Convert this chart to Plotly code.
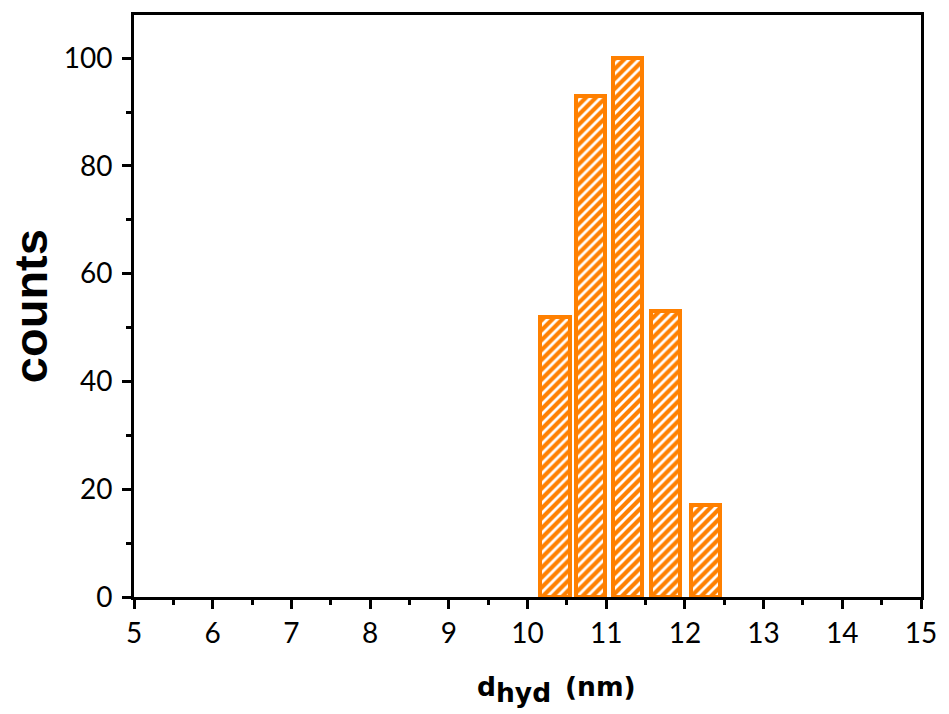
import plotly.graph_objects as go

# Data
bin_centers = [10.35, 10.80, 11.27, 11.75, 12.26]
counts = [52, 93, 100, 53, 17]
bar_width = 0.37
x_ticks = [5, 6, 7, 8, 9, 10, 11, 12, 13, 14, 15]
y_ticks = [0, 20, 40, 60, 80, 100]

orange = "#FF8000"

fig = go.Figure()
fig.add_trace(go.Bar(
    x=bin_centers, y=counts, width=bar_width,
    marker=dict(
        color="white",
        line=dict(color=orange, width=4),
        pattern=dict(shape="/", fgcolor=orange, bgcolor="white", size=7, solidity=0.6,
                     fgopacity=1, fillmode="replace"),
    ),
    showlegend=False,
))

tickfont = dict(family="Lato, Open Sans, sans-serif", size=28, color="black")

W, H = 949, 714
l, r, t, b = 134, 23, 12, 117
pw, ph = W - l - r, H - t - b

def px2paper(px, py):
    return (px - l) / pw, (H - b - py) / ph

cx, cy = px2paper(30, 305)
d_x, d_y = px2paper(477, 687)
h_x, h_y = px2paper(496, 693)
n_x, n_y = px2paper(566, 687)

title_font = dict(family="DejaVu Sans, sans-serif", size=26.5, color="black")

fig.update_layout(
    width=W, height=H,
    margin=dict(l=l, r=r, t=t, b=b),
    plot_bgcolor="white", paper_bgcolor="white",
    bargap=0,
    xaxis=dict(
        range=[5, 15], tickvals=x_ticks, ticktext=[str(v) for v in x_ticks],
        ticks="outside", ticklen=9, tickwidth=3, tickcolor="black",
        showline=True, linewidth=3, linecolor="black", mirror=True,
        showgrid=False, zeroline=False, tickfont=tickfont,
        minor=dict(dtick=0.5, tick0=5, ticks="outside", ticklen=5, tickwidth=3, tickcolor="black"),
    ),
    yaxis=dict(
        range=[0, 108], tickvals=y_ticks, ticktext=[str(v) for v in y_ticks],
        ticks="outside", ticklen=9, tickwidth=3, tickcolor="black",
        showline=True, linewidth=3, linecolor="black", mirror=True,
        showgrid=False, zeroline=False, tickfont=tickfont,
        ticklabelstandoff=4,
        minor=dict(dtick=10, tick0=0, ticks="outside", ticklen=5, tickwidth=3, tickcolor="black"),
    ),
    annotations=[
        dict(text="<b>counts</b>", x=cx, y=cy, xref="paper", yref="paper",
             textangle=-90, showarrow=False,
             font=dict(family="Liberation Sans, Arial", size=47, color="black"),
             xanchor="center", yanchor="middle"),
        dict(text="<b>d</b>", x=d_x, y=d_y, xref="paper", yref="paper", showarrow=False,
             font=title_font, xanchor="left", yanchor="middle"),
        dict(text="<b>hyd</b>", x=h_x, y=h_y, xref="paper", yref="paper", showarrow=False,
             font=title_font, xanchor="left", yanchor="middle"),
        dict(text="<b>(nm)</b>", x=n_x, y=n_y, xref="paper", yref="paper", showarrow=False,
             font=title_font, xanchor="left", yanchor="middle"),
    ],
)

fig.write_html("out.html")
